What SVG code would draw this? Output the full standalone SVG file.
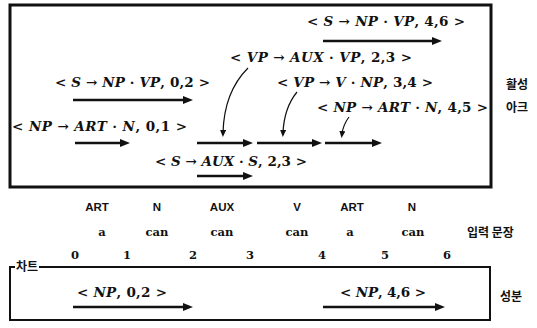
<svg xmlns="http://www.w3.org/2000/svg" width="537" height="328" viewBox="0 0 537 328">
<style>
.m{font-family:"DejaVu Serif","Liberation Serif",serif;font-size:13.5px;font-weight:bold;fill:#111}
.i{font-style:italic}
.s{font-family:"Liberation Sans",Arial,sans-serif;font-size:11.5px;font-weight:bold;fill:#111;text-anchor:middle}
.w{font-family:"DejaVu Serif","Liberation Serif",serif;font-size:11.5px;font-weight:bold;fill:#111;text-anchor:middle}
.k{font-family:"Noto Sans CJK KR",sans-serif;font-size:12px;font-weight:bold;fill:#111}
.box{fill:none;stroke:#111;stroke-width:3}
.cbox{fill:none;stroke:#111;stroke-width:2}
.arr{stroke:#111;stroke-width:2.6;fill:none;marker-end:url(#ah)}
.cur{stroke:#111;stroke-width:1.2;fill:none;marker-end:url(#ahs)}
</style>
<defs>
<marker id="ah" markerUnits="userSpaceOnUse" markerWidth="10" markerHeight="8" viewBox="0 0 10 8" refX="4" refY="4" orient="auto"><path d="M0,0 L10,4 L0,8 z" fill="#111"/></marker>
<marker id="ahs" markerUnits="userSpaceOnUse" markerWidth="7" markerHeight="6" viewBox="0 0 7 6" refX="3" refY="3" orient="auto"><path d="M0,0 L7,3 L0,6 z" fill="#111"/></marker>
</defs>

<g id="active-arcs-box">
<rect class="box" x="10" y="5" width="481" height="182"/>
<text class="k" x="506" y="89">활성</text>
<text class="k" x="506" y="112">아크</text>
</g>

<g id="arc-s-np-vp-46">
<text class="m" x="307" y="26" textLength="158" lengthAdjust="spacing">&lt; <tspan class="i">S</tspan> → <tspan class="i">NP</tspan> · <tspan class="i">VP</tspan>, 4,6 &gt;</text>
<line class="arr" x1="323" y1="41" x2="436" y2="41"/>
</g>
<g id="arc-vp-aux-vp-23">
<text class="m" x="230" y="62" textLength="182" lengthAdjust="spacing">&lt; <tspan class="i">VP</tspan> → <tspan class="i">AUX</tspan> · <tspan class="i">VP</tspan>, 2,3 &gt;</text>
</g>
<g id="arc-s-np-vp-02">
<text class="m" x="55" y="87" textLength="155" lengthAdjust="spacing">&lt; <tspan class="i">S</tspan> → <tspan class="i">NP</tspan> · <tspan class="i">VP</tspan>, 0,2 &gt;</text>
<line class="arr" x1="73" y1="100" x2="187" y2="100"/>
</g>
<g id="arc-vp-v-np-34">
<text class="m" x="277" y="87" textLength="156" lengthAdjust="spacing">&lt; <tspan class="i">VP</tspan> → <tspan class="i">V</tspan> · <tspan class="i">NP</tspan>, 3,4 &gt;</text>
</g>
<g id="arc-np-art-n-45">
<text class="m" x="317" y="112" textLength="171" lengthAdjust="spacing">&lt; <tspan class="i">NP</tspan> → <tspan class="i">ART</tspan> · <tspan class="i">N</tspan>, 4,5 &gt;</text>
</g>
<g id="arc-np-art-n-01">
<text class="m" x="12" y="131" textLength="175" lengthAdjust="spacing">&lt; <tspan class="i">NP</tspan> → <tspan class="i">ART</tspan> · <tspan class="i">N</tspan>, 0,1 &gt;</text>
<line class="arr" x1="75" y1="143" x2="124" y2="143"/>
</g>
<g id="arc-s-aux-s-23">
<text class="m" x="155" y="166" textLength="152" lengthAdjust="spacing">&lt; <tspan class="i">S</tspan> → <tspan class="i">AUX</tspan> · <tspan class="i">S</tspan>, 2,3 &gt;</text>
<line class="arr" x1="197" y1="176" x2="247" y2="176"/>
</g>
<g id="arcs-row">
<line class="arr" x1="197" y1="143" x2="247" y2="143"/>
<line class="arr" x1="257" y1="143" x2="316" y2="143"/>
<line class="arr" x1="325" y1="143" x2="376" y2="143"/>
</g>

<g id="connectors">
<path class="cur" d="M248,68 Q224,92 223,133"/>
<path class="cur" d="M297,92 Q284,108 283,133"/>
<path class="cur" d="M349,117 Q343,125 342,134"/>
</g>

<g id="input-sentence">
<text class="s" x="97" y="211">ART</text>
<text class="s" x="157" y="211">N</text>
<text class="s" x="222" y="211">AUX</text>
<text class="s" x="297" y="211">V</text>
<text class="s" x="352" y="211">ART</text>
<text class="s" x="412" y="211">N</text>
<text class="w" x="102" y="236">a</text>
<text class="w" x="157" y="236">can</text>
<text class="w" x="222" y="236">can</text>
<text class="w" x="297" y="236">can</text>
<text class="w" x="350" y="236">a</text>
<text class="w" x="413" y="236">can</text>
<text class="k" x="467" y="237">입력 문장</text>
<text class="w" x="75" y="259">0</text>
<text class="w" x="127" y="259">1</text>
<text class="w" x="193" y="259">2</text>
<text class="w" x="250" y="259">3</text>
<text class="w" x="322" y="259">4</text>
<text class="w" x="385" y="259">5</text>
<text class="w" x="447" y="259">6</text>
</g>

<g id="chart-box">
<path class="cbox" d="M15,267 L10,267 L10,320 L490,320 L490,267 L39,267"/>
<text class="k" x="16" y="271">차트</text>
<text class="k" x="500" y="301">성분</text>
</g>
<g id="const-np-02">
<text class="m" x="77" y="297" textLength="90" lengthAdjust="spacing">&lt; <tspan class="i">NP</tspan>, 0,2 &gt;</text>
<line class="arr" x1="73" y1="307" x2="187" y2="307"/>
</g>
<g id="const-np-46">
<text class="m" x="340" y="297" textLength="86" lengthAdjust="spacing">&lt; <tspan class="i">NP</tspan>, 4,6 &gt;</text>
<line class="arr" x1="323" y1="307" x2="439" y2="307"/>
</g>
</svg>
